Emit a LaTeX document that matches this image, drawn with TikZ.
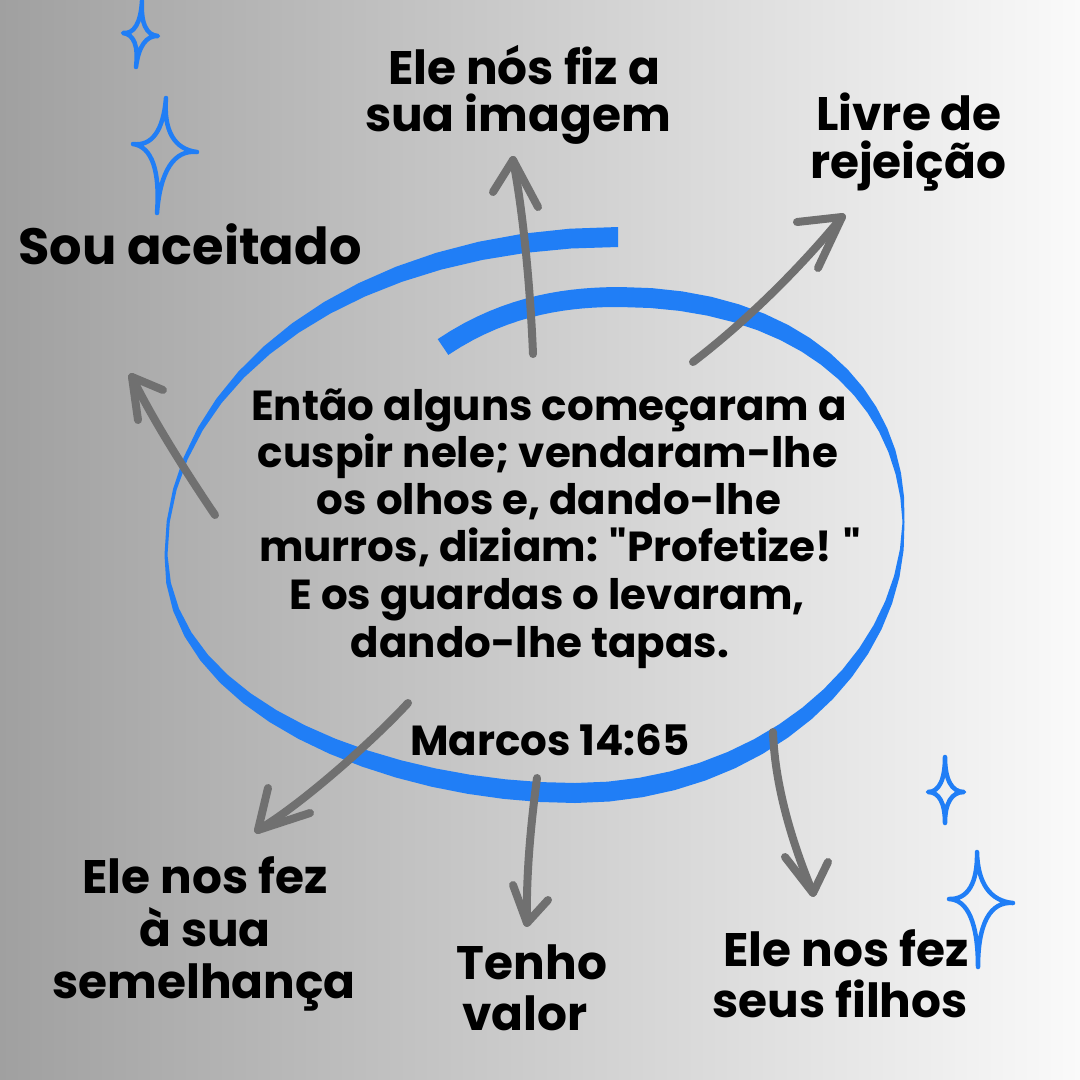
\documentclass[tikz,border=0pt]{standalone}
\usepackage{fontspec}
\setmainfont{Poppins}[Ligatures=TeXOff]
\usetikzlibrary{calc}
\definecolor{bgL}{RGB}{160,160,160}
\definecolor{bgR}{RGB}{250,250,250}
\definecolor{spiralblue}{RGB}{32,126,246}
\definecolor{arrowgray}{RGB}{112,112,112}
\newcount\spk
\tikzset{
  lbl/.style={font=\bfseries\fontsize{47}{50}\selectfont, text=black, inner sep=0pt, anchor=base},
  biglbl/.style={font=\bfseries\fontsize{51}{54}\selectfont, text=black, inner sep=0pt, anchor=base},
  bodytxt/.style={font=\bfseries\fontsize{42}{46}\selectfont, text=black, inner sep=0pt, anchor=base},
  arrowline/.style={draw=arrowgray, line width=8pt, line cap=round, line join=round},
  sparkle/.style={draw=spiralblue, line width=4.5pt, line join=round},
}
\newcommand\mysparkle[5]{%
  \draw[sparkle] #2 .. controls ($#1!0.35!#2$) and ($#1!0.35!#3$) .. #3
    .. controls ($#1!0.35!#3$) and ($#1!0.35!#4$) .. #4
    .. controls ($#1!0.35!#4$) and ($#1!0.35!#5$) .. #5
    .. controls ($#1!0.35!#5$) and ($#1!0.35!#2$) .. cycle;}
\begin{document}
\begin{tikzpicture}[x=1pt,y=-1pt]
\useasboundingbox (0,0) rectangle (1080,1080);
\shade[left color=bgL, right color=bgR] (0,0) rectangle (1080,1080);

% spiral: centre line as Bezier segments, variable width
\global\spk=0
\foreach \ax/\ay/\bx/\by/\cx/\cy/\dx/\dy/\wa/\wb/\ez in {
  618/237/360.4/237/166/373.7/166/555/20/3/0,
  166/555/166/709.7/391/793/575/793/3/20/1,
  575/793/755.7/793/903.5/671/903.5/522/20/2/2,
  903.5/522/903.5/387/790/297/620/297/2/20/1,
  620/297/575/297/510/302/443/347/20/19/3} {
  \foreach \j in {0,...,16} {
    \pgfmathsetmacro\tpar{\j/16}
    \pgfmathsetmacro\upar{1-\tpar}
    \pgfmathsetmacro\px{\upar*\upar*\upar*\ax + 3*\upar*\upar*\tpar*\bx + 3*\upar*\tpar*\tpar*\cx + \tpar*\tpar*\tpar*\dx}
    \pgfmathsetmacro\py{\upar*\upar*\upar*\ay + 3*\upar*\upar*\tpar*\by + 3*\upar*\tpar*\tpar*\cy + \tpar*\tpar*\tpar*\dy}
    \pgfmathsetmacro\vx{(3*\upar*\upar*(\bx-\ax) + 6*\upar*\tpar*(\cx-\bx) + 3*\tpar*\tpar*(\dx-\cx))/100}
    \pgfmathsetmacro\vy{(3*\upar*\upar*(\by-\ay) + 6*\upar*\tpar*(\cy-\by) + 3*\tpar*\tpar*(\dy-\cy))/100}
    \pgfmathsetmacro\vl{sqrt(\vx*\vx+\vy*\vy)}
    \ifcase\ez\relax
      \pgfmathsetmacro\fe{(1-cos(180*\tpar))/2}
    \or
      \pgfmathsetmacro\fe{sin(90*\tpar)}
    \or
      \pgfmathsetmacro\fe{1-cos(90*\tpar)}
    \else
      \pgfmathsetmacro\fe{\tpar}
    \fi
    \pgfmathsetmacro\hw{(\wa+(\wb-\wa)*\fe)/2}
    \pgfmathsetmacro\nxv{-\vy/\vl*\hw}
    \pgfmathsetmacro\nyv{\vx/\vl*\hw}
    \coordinate (o\the\spk) at (\px+\nxv, \py+\nyv);
    \coordinate (n\the\spk) at (\px-\nxv, \py-\nyv);
    \global\advance\spk by 1
  }
}
\pgfmathtruncatemacro\Nl{\the\spk-1}
\pgfmathtruncatemacro\Nm{\the\spk-2}
\fill[spiralblue] (o0) \foreach \k in {1,...,\Nl} {-- (o\k)} -- (n\Nl)
  \foreach \k in {\Nm,...,0} {-- (n\k)} -- cycle;

% arrows
\coordinate (a1s) at (533,354); \coordinate (a1t) at (513,160);
\coordinate (a1l) at (493,192); \coordinate (a1r) at (538,207);
\draw[arrowline] (a1s) .. controls (530,280) and (522,205) .. (a1t);
\draw[arrowline] (a1l) -- (a1t) -- (a1r);

\coordinate (a2s) at (693,362); \coordinate (a2t) at (842,217);
\coordinate (a2l) at (797,222); \coordinate (a2r) at (818,268);
\draw[arrowline] (a2s) .. controls (735,330) and (790,280) .. (a2t);
\draw[arrowline] (a2l) -- (a2t) -- (a2r);

\coordinate (a3s) at (215,515); \coordinate (a3t) at (132,377);
\coordinate (a3l) at (163,390); \coordinate (a3r) at (138,420);
\draw[arrowline] (a3s) .. controls (198,490) and (155,425) .. (a3t);
\draw[arrowline] (a3l) -- (a3t) -- (a3r);

\coordinate (a4s) at (408,703); \coordinate (a4t) at (258,830);
\coordinate (a4l) at (268,788); \coordinate (a4r) at (310,813);
\draw[arrowline] (a4s) .. controls (374,740) and (301,805) .. (a4t);
\draw[arrowline] (a4l) -- (a4t) -- (a4r);

\coordinate (a5s) at (537,778); \coordinate (a5t) at (527,923);
\coordinate (a5l) at (513,885); \coordinate (a5r) at (548,900);
\draw[arrowline] (a5s) .. controls (530,830) and (526,880) .. (a5t);
\draw[arrowline] (a5l) -- (a5t) -- (a5r);

\coordinate (a6s) at (773,732); \coordinate (a6t) at (813,893);
\coordinate (a6l) at (785,857); \coordinate (a6r) at (828,862);
\draw[arrowline] (a6s) .. controls (775,790) and (795,850) .. (a6t);
\draw[arrowline] (a6l) -- (a6t) -- (a6r);

% texts
\node[lbl] (t1a) at (524,84) {Ele nós fiz a};
\node[lbl] (t1b) at (518,131) {sua imagem};
\node[lbl] (t2a) at (909,130) {Livre de};
\node[lbl] (t2b) at (908,178) {rejeição};
\node[biglbl] (t3) at (190,264) {Sou aceitado};
\node[bodytxt] (b1) at (549,420) {Então alguns começaram a};
\node[bodytxt] (b2) at (548,467) {cuspir nele; vendaram-lhe};
\node[bodytxt] (b3) at (549,514) {os olhos e, dando-lhe};
\node[bodytxt] (b4) at (560,561) {murros, diziam: "Profetize! "};
\node[bodytxt] (b5) at (547,609) {E os guardas o levaram,};
\node[bodytxt] (b6) at (540,657) {dando-lhe tapas.};
\node[bodytxt] (ref) at (550,755) {Marcos 14:65};
\node[lbl] (t4a) at (205,893) {Ele nos fez};
\node[lbl] (t4b) at (205,946) {à sua};
\node[lbl] (t4c) at (204,998) {semelhança};
\node[lbl] (t5a) at (532,979) {Tenho};
\node[lbl] (t5b) at (525,1030) {valor};
\node[lbl] (t6a) at (846,966) {Ele nos fez};
\node[lbl] (t6b) at (840,1017) {seus filhos};

% sparkles
\mysparkle{(140,35)}{(142,1)}{(158,36)}{(136,67)}{(123,33)}
\mysparkle{(162,148)}{(166,98)}{(197,152)}{(157,213)}{(133,144)}
\mysparkle{(945,792)}{(945,757)}{(964,792)}{(945,823)}{(928,792)}
\mysparkle{(978,900)}{(977,852)}{(1013,903)}{(978,967)}{(949,899)}
\end{tikzpicture}
\end{document}
